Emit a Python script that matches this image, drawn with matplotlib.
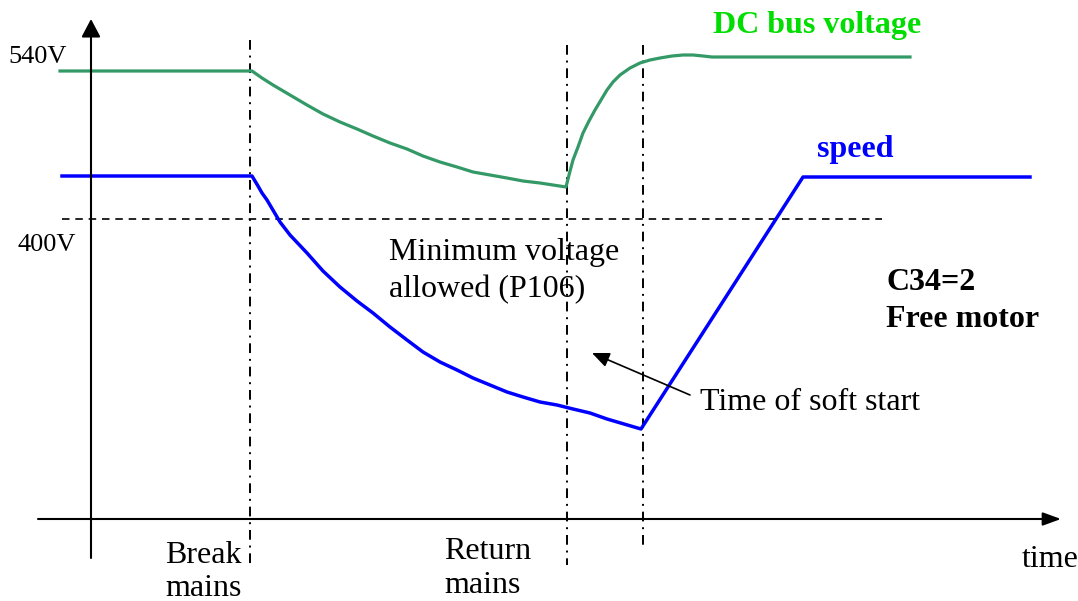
import matplotlib.pyplot as plt

# coordinates (pixel units, y grows downward)
bus_x = [60, 252, 262, 273, 290, 307, 323, 340, 357, 373, 390, 407, 423, 440, 457,
         473, 490, 507, 523, 540, 553, 566,
         569, 573, 578, 583, 589, 595, 601, 607, 613, 620, 630, 640, 650, 660,
         672, 683, 693, 703, 712, 720, 910]
bus_y = [71, 71, 78, 85, 95, 105, 114, 122, 129, 136, 143, 149, 156, 162, 167,
         172, 175, 178, 181, 183, 185, 187,
         175, 160, 147, 133, 121, 110, 100, 90, 82, 75, 68, 63, 60, 58,
         56, 55, 55, 56, 57, 57, 57]

speed_x = [62, 252, 258, 262, 267, 280, 290, 307, 323, 340, 357, 373, 390, 407,
           423, 440, 457, 473, 490, 507, 523, 540, 557, 573, 590, 607, 624, 641,
           803, 1030]
speed_y = [176, 176, 186, 193, 200, 222, 235, 253, 271, 287, 301, 313, 327, 340,
           352, 362, 370, 378, 385, 392, 397, 402, 405, 409, 413, 419, 424, 429,
           177, 177]

min_volt_y = 219
min_volt_span = [62, 882]
event_x = [250, 567, 643]
event_top = [40, 45, 45]
event_bottom = [568, 565, 545]

GREEN = '#339966'
BLUE = '#0000ff'
SERIF = 'Liberation Serif'

fig = plt.figure(figsize=(10.78, 6.01), dpi=100)
ax = fig.add_axes([0, 0, 1, 1])
ax.set_xlim(0, 1078)
ax.set_ylim(601, 0)
ax.axis('off')

# axes with arrow heads
ax.annotate('', xy=(1061, 519), xytext=(38, 519),
            arrowprops=dict(arrowstyle='-|>,head_length=0.55,head_width=0.2',
                            mutation_scale=20, lw=1.5, color='black',
                            shrinkA=0, shrinkB=0))
ax.annotate('', xy=(91, 19), xytext=(91, 558),
            arrowprops=dict(arrowstyle='-|>,head_length=0.55,head_width=0.29',
                            mutation_scale=20, lw=1.5, color='black',
                            shrinkA=0, shrinkB=0))

# minimum voltage level and event markers
ax.plot(min_volt_span, [min_volt_y, min_volt_y], color='black', lw=1.2,
        linestyle=(0, (4.5, 3.5)))
for x, top, bot in zip(event_x, event_top, event_bottom):
    ax.plot([x, x], [top, bot], color='black', lw=1.4,
            linestyle=(0, (5, 3, 1, 3)))

ax.plot(bus_x, bus_y, color=GREEN, lw=2.3, solid_joinstyle='round')
ax.plot(speed_x, speed_y, color=BLUE, lw=2.5, solid_joinstyle='round')

# soft start pointer
ax.annotate('', xy=(592, 353), xytext=(690, 395),
            arrowprops=dict(arrowstyle='-|>,head_length=0.7,head_width=0.3',
                            mutation_scale=15, lw=1.2, color='black',
                            shrinkA=0, shrinkB=0))

txt = dict(family=SERIF, va='baseline', ha='left')
ax.text(8, 63, '540V', fontsize=19, **txt)
ax.text(17, 251, '400V', fontsize=19, **txt)
ax.text(713, 33, 'DC bus voltage', fontsize=23, fontweight='bold', color='#00dd00', **txt)
ax.text(817, 157, 'speed', fontsize=23, fontweight='bold', color=BLUE, **txt)
ax.text(389, 260, 'Minimum voltage', fontsize=23, **txt)
ax.text(389, 297, 'allowed (P106)', fontsize=23, **txt)
ax.text(886, 290, 'C34=2', fontsize=23, fontweight='bold', **txt)
ax.text(886, 327, 'Free motor', fontsize=23, fontweight='bold', **txt)
ax.text(700, 410, 'Time of soft start', fontsize=23, **txt)
ax.text(165, 563, 'Break', fontsize=23, **txt)
ax.text(165, 596, 'mains', fontsize=23, **txt)
ax.text(444, 559, 'Return', fontsize=23, **txt)
ax.text(444, 593, 'mains', fontsize=23, **txt)
ax.text(1022, 567, 'time', fontsize=23, **txt)

fig.savefig('out.png', dpi=100)
